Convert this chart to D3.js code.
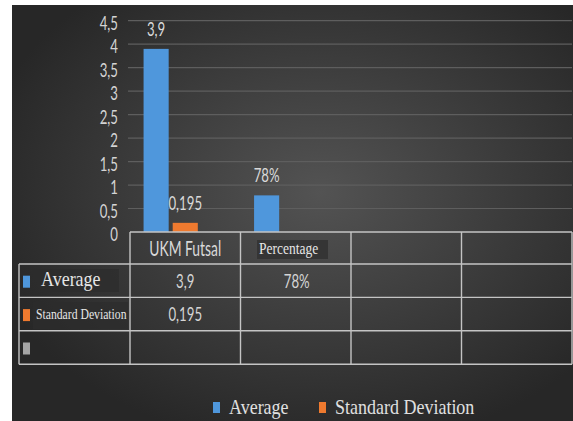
<!DOCTYPE html>
<html><head><meta charset="utf-8">
<script src="https://cdn.jsdelivr.net/npm/d3@7"></script>
<style>html,body{margin:0;padding:0;background:#fff;overflow:hidden}</style>
</head><body>
<svg id="c" width="573" height="421"></svg>
<script>
// ---- data ----
const categories = ["UKM Futsal", "Percentage", "", ""];
const seriesNames = ["Average", "Standard Deviation", ""];
const averageValues = [3.9, 0.78, null, null];
const stdDevValues = [0.195, null, null, null];
const thirdValues = [null, null, null, null];
const averageLabels = ["3,9", "78%", "", ""];
const stdDevLabels = ["0,195", "", "", ""];
const thirdLabels = ["", "", "", ""];
const yTicks = [0, 0.5, 1, 1.5, 2, 2.5, 3, 3.5, 4, 4.5];

const seriesValues = [averageValues, stdDevValues, thirdValues];
const seriesLabels = [averageLabels, stdDevLabels, thirdLabels];
const colors = ["#4f97dc", "#ef7a2f", "#a5a5a5"];

const svg = d3.select("#c");
const defs = svg.append("defs");
const rg = defs.append("radialGradient").attr("id","bg")
  .attr("cx","55%").attr("cy","45%").attr("r","62%");
rg.append("stop").attr("offset","0%").attr("stop-color","#535353");
rg.append("stop").attr("offset","100%").attr("stop-color","#272727");
svg.append("rect").attr("x",12).attr("y",5).attr("width",561).attr("height",416).attr("fill","url(#bg)");

const sans = "Lato, 'Open Sans', sans-serif";
const serif = "'Liberation Serif', 'DejaVu Serif', serif";
const SX = 0.66;

function sText(g, x, y, txt, size, anchor, color) {
  return g.append("text")
    .attr("transform", `translate(${x},${y}) scale(${SX},1)`)
    .attr("text-anchor", anchor).attr("font-family", sans)
    .attr("font-size", size).attr("fill", color || "#d9d9d9").text(txt);
}
function rText(g, x, y, txt, size, color) {
  return g.append("text")
    .attr("transform", `translate(${x},${y}) scale(1,1.18)`)
    .attr("font-family", serif)
    .attr("font-size", size).attr("fill", color || "#e6e6e6").text(txt);
}

const x = d3.scaleBand().domain(d3.range(categories.length)).range([130, 572]).padding(0);
const xs = d3.scaleBand().domain(d3.range(seriesNames.length)).range([0, x.bandwidth()])
  .paddingInner(0.138).paddingOuter(0.466);
const y = d3.scaleLinear().domain([0, 4.5]).range([232, 20.7]);
const loc = d3.formatLocale({decimal: ",", thousands: ".", grouping: [3], currency: ["", ""]});
const fmt = loc.format(".1~f");

// gridlines
svg.append("g").selectAll("line").data(yTicks.filter(t => t > 0)).join("line")
  .attr("x1", 128).attr("x2", 572)
  .attr("y1", d => y(d)).attr("y2", d => y(d))
  .attr("stroke", "#5e5e5e").attr("stroke-width", 1.2);

// y tick labels
const yl = svg.append("g");
yTicks.forEach(t => sText(yl, 118, y(t) + 9, fmt(t), 20, "end", "#d4d4d4"));

// bars
const bars = svg.append("g");
seriesValues.forEach((vals, si) => {
  vals.forEach((v, ci) => {
    if (v == null) return;
    const bx = x(ci) + xs(si);
    bars.append("rect").attr("x", bx).attr("y", y(v))
      .attr("width", xs.bandwidth()).attr("height", y(0) - y(v))
      .attr("fill", colors[si]);
    if (seriesLabels[si][ci]) sText(bars, bx + xs.bandwidth() / 2, y(v) - 13, seriesLabels[si][ci], 20, "middle");
  });
});

// data table
const tbl = svg.append("g");
const rowTop = 232, hdrBot = 264, rowH = 33.4;
const rows = seriesNames.map((s, i) => hdrBot + i * rowH);
const tableBottom = hdrBot + seriesNames.length * rowH;
// label boxes
tbl.append("rect").attr("x", 33).attr("y", 269).attr("width", 86).attr("height", 23).attr("fill", "#2c2c2c").attr("opacity", 0.7);
tbl.append("rect").attr("x", 33).attr("y", 302).attr("width", 95).attr("height", 27).attr("fill", "#2c2c2c").attr("opacity", 0.7);
tbl.append("rect").attr("x", 257).attr("y", 240).attr("width", 71).attr("height", 19).attr("fill", "#333333").attr("opacity", 0.9);

const lc = "#c4c4c4";
tbl.append("line").attr("x1", 130).attr("x2", 572).attr("y1", rowTop).attr("y2", rowTop).attr("stroke", lc).attr("stroke-width", 1.6);
[hdrBot, ...rows.map(r => r + rowH)].forEach(ry =>
  tbl.append("line").attr("x1", 19).attr("x2", 572).attr("y1", ry).attr("y2", ry).attr("stroke", lc).attr("stroke-width", 1.4));
categories.forEach((c, i) => {
  tbl.append("line").attr("x1", x(i)).attr("x2", x(i)).attr("y1", rowTop).attr("y2", tableBottom).attr("stroke", lc).attr("stroke-width", 1.4);
});
tbl.append("line").attr("x1", 572).attr("x2", 572).attr("y1", rowTop).attr("y2", tableBottom).attr("stroke", lc).attr("stroke-width", 1.4);
tbl.append("line").attr("x1", 19).attr("x2", 19).attr("y1", hdrBot).attr("y2", tableBottom).attr("stroke", lc).attr("stroke-width", 1.4);

// header categories
categories.forEach((c, i) => {
  if (!c) return;
  if (i === 0) sText(tbl, x(i) + x.bandwidth() / 2, 256, c, 21, "middle", "#d9d9d9");
  else rText(tbl, 259, 254, c, 13.5);
});

// row labels + keys + values
const rowLabelSizes = [18, 11.7, 12];
const rowLabelX = [41, 36, 36];
seriesNames.forEach((s, si) => {
  const ry = rows[si];
  tbl.append("rect").attr("x", 23).attr("y", ry + rowH / 2 - 5).attr("width", 7).attr("height", 12).attr("fill", colors[si]);
  if (s) rText(tbl, rowLabelX[si], ry + 22, s, rowLabelSizes[si]);
  seriesLabels[si].forEach((lab, ci) => {
    if (lab) sText(tbl, x(ci) + x.bandwidth() / 2 + (ci === 1 ? 1 : 0), ry + 24, lab, 20, "middle", "#d4d4d4");
  });
});

// bottom legend
const lg = svg.append("g");
const legendItems = seriesNames.filter(s => s);
const legX = [213, 319];
legendItems.forEach((s, i) => {
  lg.append("rect").attr("x", legX[i]).attr("y", 402).attr("width", 7).attr("height", 11).attr("fill", colors[i]);
  rText(lg, legX[i] + 16, 414, s, 18, "#e0e0e0");
});
</script>
</body></html>
